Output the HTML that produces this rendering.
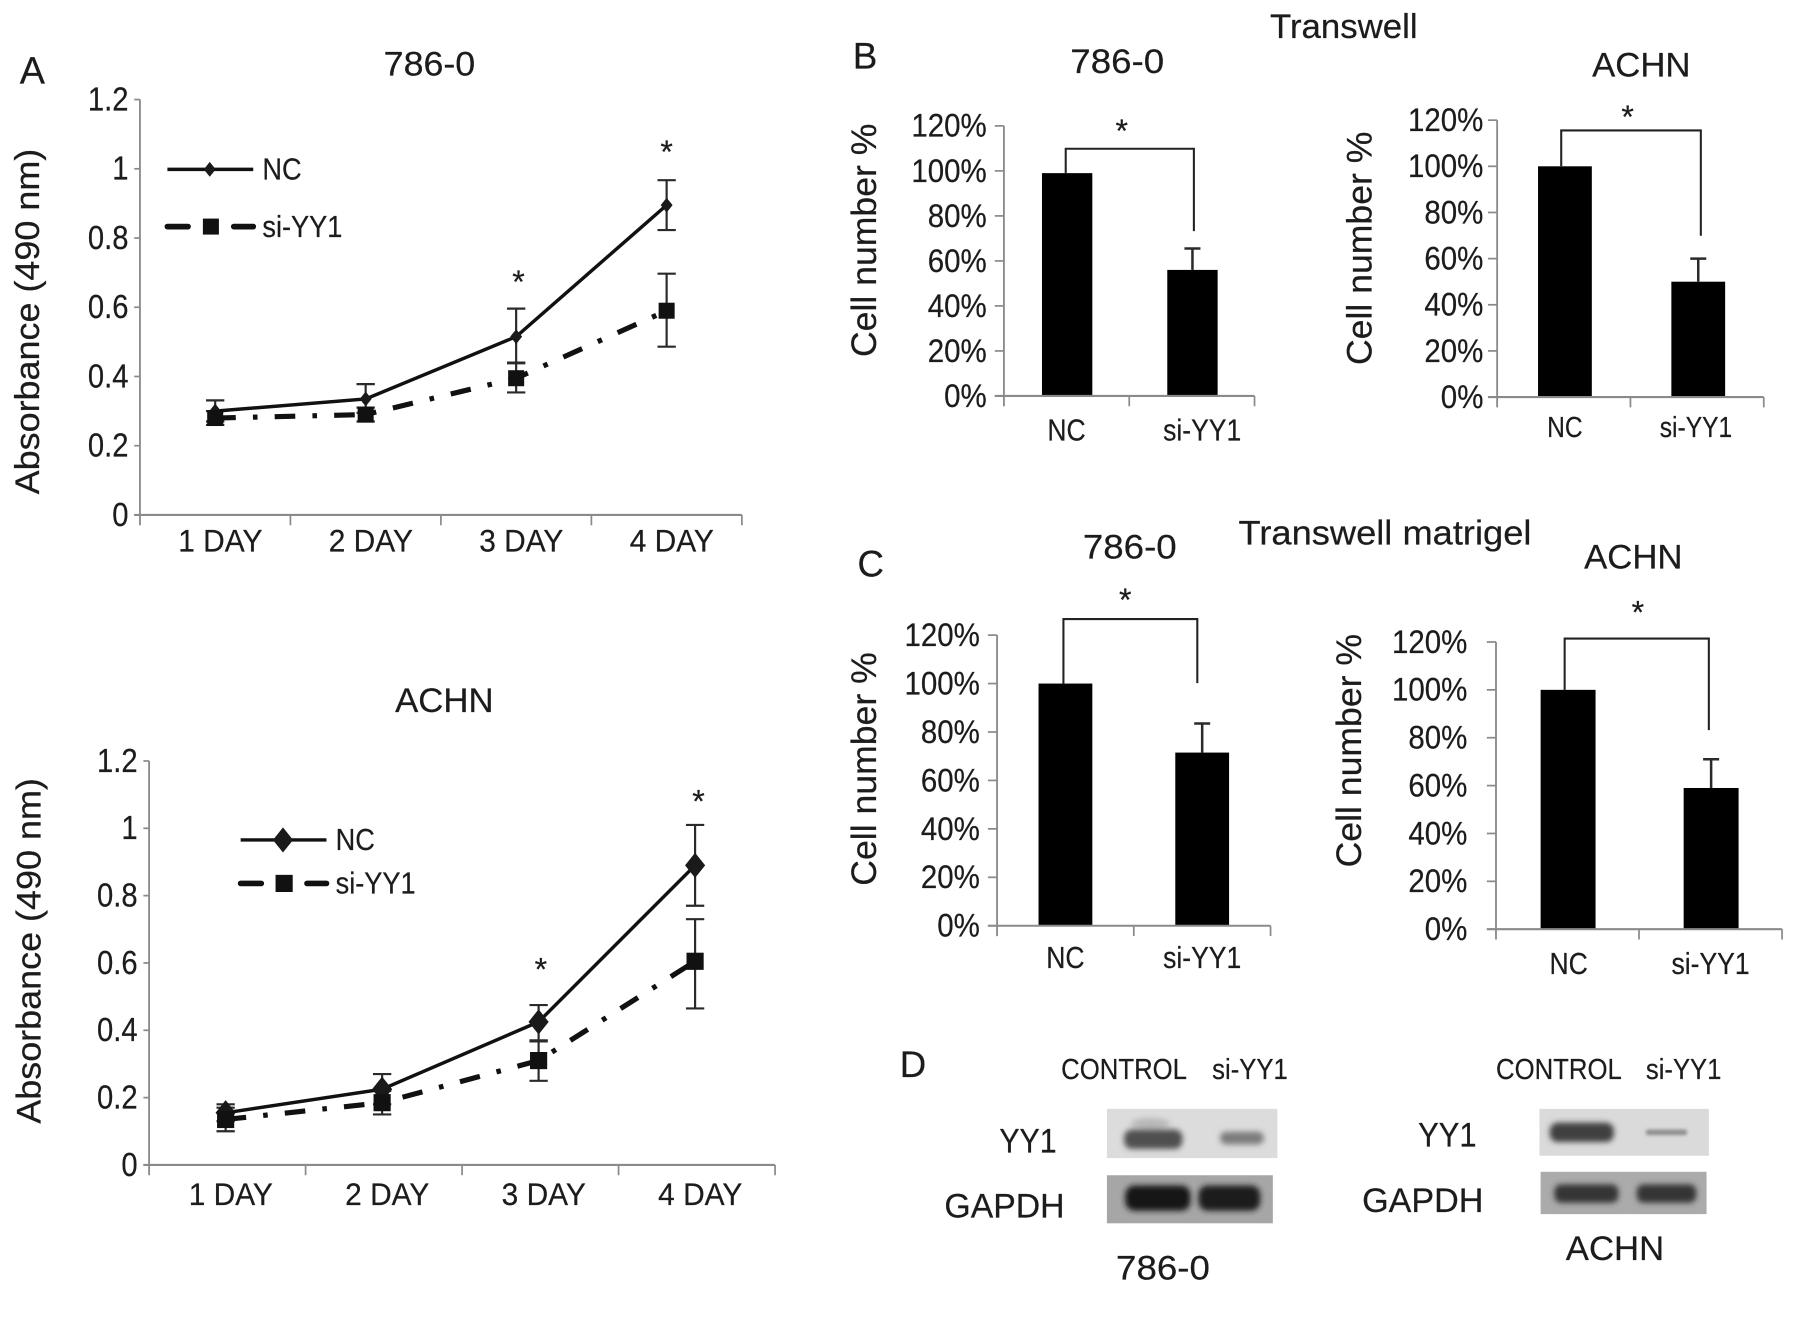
<!DOCTYPE html>
<html lang="en">
<head>
<meta charset="utf-8">
<title>YY1 knockdown figure</title>
<style>
html,body{margin:0;padding:0;background:#fff;width:1795px;height:1324px;overflow:hidden}
svg{display:block}
text{font-family:"Liberation Sans",sans-serif;fill:#1c1c1c;stroke:#1c1c1c;stroke-width:.2}
</style>
</head>
<body>
<svg id="fig" xmlns="http://www.w3.org/2000/svg" width="1795" height="1324" viewBox="0 0 1568 1157">
<defs>
<filter id="b2" x="-30%" y="-60%" width="160%" height="220%"><feGaussianBlur stdDeviation="2.5"/></filter>
<filter id="b1" x="-30%" y="-80%" width="160%" height="260%"><feGaussianBlur stdDeviation="1.5"/></filter>
</defs>
<rect width="1568" height="1157" fill="#fff"/>

<text x="17" y="73" font-size="33">A</text>
<text x="375" y="66" font-size="30" text-anchor="middle" textLength="80" lengthAdjust="spacingAndGlyphs">786-0</text>
<text x="388" y="622" font-size="30" text-anchor="middle" textLength="86" lengthAdjust="spacingAndGlyphs">ACHN</text>

<text x="745" y="60" font-size="32">B</text>
<text x="1174" y="33" font-size="30" text-anchor="middle" textLength="129" lengthAdjust="spacingAndGlyphs">Transwell</text>
<text x="976" y="64" font-size="30" text-anchor="middle" textLength="82" lengthAdjust="spacingAndGlyphs">786-0</text>
<text x="1434" y="67" font-size="30" text-anchor="middle" textLength="86" lengthAdjust="spacingAndGlyphs">ACHN</text>

<text x="749" y="504" font-size="32">C</text>
<text x="1210" y="476" font-size="30" text-anchor="middle" textLength="256" lengthAdjust="spacingAndGlyphs">Transwell matrigel</text>
<text x="987" y="488" font-size="30" text-anchor="middle" textLength="82" lengthAdjust="spacingAndGlyphs">786-0</text>
<text x="1427" y="497" font-size="30" text-anchor="middle" textLength="86" lengthAdjust="spacingAndGlyphs">ACHN</text>

<text x="786" y="941" font-size="32">D</text>
<text x="927" y="943" font-size="25" textLength="110" lengthAdjust="spacingAndGlyphs">CONTROL</text>
<text x="1059" y="943" font-size="25" textLength="66" lengthAdjust="spacingAndGlyphs">si-YY1</text>
<text x="1307" y="943" font-size="25" textLength="110" lengthAdjust="spacingAndGlyphs">CONTROL</text>
<text x="1438" y="943" font-size="25" textLength="66" lengthAdjust="spacingAndGlyphs">si-YY1</text>
<text x="873" y="1007" font-size="30" textLength="50" lengthAdjust="spacingAndGlyphs">YY1</text>
<text x="825" y="1064" font-size="30" textLength="105" lengthAdjust="spacingAndGlyphs">GAPDH</text>
<text x="1016" y="1118" font-size="30" text-anchor="middle" textLength="82" lengthAdjust="spacingAndGlyphs">786-0</text>
<text x="1239" y="1002" font-size="30" textLength="51" lengthAdjust="spacingAndGlyphs">YY1</text>
<text x="1190" y="1059" font-size="30" textLength="106" lengthAdjust="spacingAndGlyphs">GAPDH</text>
<text x="1411" y="1101" font-size="30" text-anchor="middle" textLength="86" lengthAdjust="spacingAndGlyphs">ACHN</text>

<g>
  <rect x="967" y="969" width="149" height="43" fill="#dcdcdc"/>
  <ellipse cx="1005" cy="982" rx="17" ry="5" fill="#b8b8b8" filter="url(#b2)"/>
  <rect x="982" y="987" width="51" height="17" rx="7" fill="#505050" filter="url(#b2)"/>
  <rect x="1066" y="989" width="38" height="11" rx="5" fill="#7c7c7c" filter="url(#b2)"/>
</g>
<g>
  <rect x="967" y="1027" width="145" height="42" fill="#a6a6a6"/>
  <rect x="983" y="1036" width="57" height="22" rx="8" fill="#161616" filter="url(#b2)"/>
  <rect x="1047" y="1036" width="54" height="22" rx="8" fill="#1a1a1a" filter="url(#b2)"/>
</g>
<g>
  <rect x="1345" y="969" width="148" height="41" fill="#dadada"/>
  <rect x="1354" y="981" width="56" height="17" rx="7" fill="#404040" filter="url(#b2)"/>
  <rect x="1438" y="987" width="36" height="5" rx="2" fill="#8e8e8e" filter="url(#b1)"/>
</g>
<g>
  <rect x="1346" y="1024" width="145" height="37" fill="#ababab"/>
  <rect x="1358" y="1035" width="56" height="16" rx="6" fill="#353535" filter="url(#b2)"/>
  <rect x="1430" y="1035" width="52" height="16" rx="6" fill="#353535" filter="url(#b2)"/>
</g>
</svg>

<script>
// Panel A, 786-0
const a1Categories = ["1 DAY", "2 DAY", "3 DAY", "4 DAY"];
const a1Ticks = [0, 0.2, 0.4, 0.6, 0.8, 1, 1.2];
const a1NcValues = [0.30, 0.335, 0.515, 0.895];
const a1NcUpper = [0.331, 0.378, 0.596, 0.967];
const a1NcLower = [0.27, 0.295, 0.438, 0.823];
const a1SiValues = [0.28, 0.29, 0.395, 0.59];
const a1SiUpper = [0.30, 0.31, 0.44, 0.697];
const a1SiLower = [0.26, 0.27, 0.354, 0.486];
// Panel A, ACHN
const a2Categories = ["1 DAY", "2 DAY", "3 DAY", "4 DAY"];
const a2Ticks = [0, 0.2, 0.4, 0.6, 0.8, 1, 1.2];
const a2NcValues = [0.155, 0.225, 0.425, 0.89];
const a2NcUpper = [0.18, 0.27, 0.475, 1.01];
const a2NcLower = [0.13, 0.18, 0.37, 0.77];
const a2SiValues = [0.135, 0.185, 0.31, 0.605];
const a2SiUpper = [0.17, 0.22, 0.367, 0.73];
const a2SiLower = [0.10, 0.15, 0.25, 0.465];
// Bar panels
const barCategories = ["NC", "si-YY1"];
const barTicks = ["0%", "20%", "40%", "60%", "80%", "100%", "120%"];
const b1Values = [99, 56];
const b1Errors = [0, 9.5];
const b2Values = [100, 50];
const b2Errors = [0, 10];
const c1Values = [100, 71.5];
const c1Errors = [0, 12];
const c2Values = [100, 59];
const c2Errors = [0, 12];

const svg = document.getElementById('fig');
const NS = 'http://www.w3.org/2000/svg';

function mk(parent, tag, props) {
  const el = document.createElementNS(NS, tag);
  for (const k in props) el.setAttribute(k, props[k]);
  parent.appendChild(el);
  return el;
}
function label(parent, str, x, y, size, anchor, squeeze) {
  const el = mk(parent, 'text', {x: x, y: y, 'font-size': size, 'text-anchor': anchor});
  el.textContent = str;
  if (squeeze) {
    el.setAttribute('textLength', el.getComputedTextLength() * squeeze);
    el.setAttribute('lengthAdjust', 'spacingAndGlyphs');
  }
  return el;
}
function yTitle(parent, str, x, cy, size, len) {
  const el = mk(parent, 'text', {x: 0, y: 0, 'font-size': size, 'text-anchor': 'middle',
    transform: 'translate(' + x + ',' + cy + ') rotate(-90)', textLength: len, lengthAdjust: 'spacingAndGlyphs'});
  el.textContent = str;
  
  
}
function star(parent, x, y) {
  const el = mk(parent, 'text', {x: x, y: y, 'font-size': 28, 'text-anchor': 'middle'});
  el.textContent = '*';
  
  
}
function diamond(parent, x, y, r) {
  return mk(parent, 'polygon', {points: [x, y - r, x + r * 0.8, y, x, y + r, x - r * 0.8, y].join(','), fill: '#1a1a1a'});
}
function square(parent, x, y, s) {
  return mk(parent, 'rect', {x: x - s / 2, y: y - s / 2, width: s, height: s, fill: '#111'});
}
const AX = '#8a8a8a';

function drawLineChart(c) {
  const g = mk(svg, 'g', {});
  
  
  const maxV = c.ticks[c.ticks.length - 1];
  const yOf = v => c.y0 - v / maxV * (c.y0 - c.yTop);
  const band = (c.xR - c.x0) / c.categories.length;
  const xOf = i => c.x0 + band * (i + 0.5) + c.pointDx;

  const yAxis = mk(g, 'line', {x1: c.x0, y1: c.yTop, x2: c.x0, y2: c.y0 + 9, stroke: AX, 'stroke-width': 1.6});
  
  
  const xAxis = mk(g, 'line', {x1: c.x0 - 5, y1: c.y0, x2: c.xR, y2: c.y0, stroke: AX, 'stroke-width': 1.8});
  
  

  c.ticks.forEach(t => {
    mk(g, 'line', {x1: c.x0 - 5, y1: yOf(t), x2: c.x0, y2: yOf(t), stroke: AX, 'stroke-width': 1.5});
    const tl = label(g, String(t), c.x0 - 10, yOf(t) + 9.5, 29, 'end', 0.88);
    
    
  });
  c.categories.forEach((cat, i) => {
    const tx = c.x0 + band * (i + 1);
    mk(g, 'line', {x1: tx, y1: c.y0, x2: tx, y2: c.y0 + 9, stroke: AX, 'stroke-width': 1.5});
    const tl = label(g, cat, c.x0 + band * (i + 0.5) + c.labelDx, c.y0 + c.labelDy, 27.5, 'middle', 0.95);
    
    
  });

  const errs = (vals, up, low, name) => {
    vals.forEach((v, i) => {
      const x = xOf(i);
      const e = mk(g, 'path', {
        d: 'M' + (x - 8) + ' ' + yOf(up[i]) + 'H' + (x + 8) + 'M' + x + ' ' + yOf(up[i]) + 'V' + yOf(low[i]) + 'M' + (x - 8) + ' ' + yOf(low[i]) + 'H' + (x + 8),
        fill: 'none', stroke: '#2a2a2a', 'stroke-width': 1.9});
      
      
    });
  };
  errs(c.nc, c.ncUp, c.ncLow, 'nc-error-bar');
  errs(c.si, c.siUp, c.siLow, 'si-yy1-error-bar');

  const nc = mk(g, 'polyline', {points: c.nc.map((v, i) => xOf(i) + ',' + yOf(v)).join(' '), fill: 'none', stroke: '#111', 'stroke-width': 3});
  
  
  const si = mk(g, 'polyline', {points: c.si.map((v, i) => xOf(i) + ',' + yOf(v)).join(' '), fill: 'none', stroke: '#111', 'stroke-width': 4.5, 'stroke-dasharray': '18 15 4 15'});
  
  

  c.nc.forEach((v, i) => {
    const m = diamond(g, xOf(i), yOf(v), c.dr);
    
    
  });
  c.si.forEach((v, i) => {
    const m = square(g, xOf(i), yOf(v), c.ss);
    
    
  });

  const leg = mk(g, 'g', {});
  
  
  const lx = c.legX, ly1 = c.legY1, ly2 = c.legY2;
  mk(leg, 'line', {x1: lx, y1: ly1, x2: lx + 75, y2: ly1, stroke: '#111', 'stroke-width': 3});
  diamond(leg, lx + 37, ly1, c.dr);
  const t1 = label(leg, 'NC', lx + 83, ly1 + 9, 27, 'start', 0.88);
  
  
  mk(leg, 'line', {x1: lx, y1: ly2, x2: lx + 18, y2: ly2, stroke: '#111', 'stroke-width': 5, 'stroke-linecap': 'round'});
  mk(leg, 'line', {x1: lx + 58, y1: ly2, x2: lx + 75, y2: ly2, stroke: '#111', 'stroke-width': 5, 'stroke-linecap': 'round'});
  square(leg, lx + 38, ly2, c.ss);
  const t2 = label(leg, 'si-YY1', lx + 83, ly2 + 9, 27, 'start', 0.88);
  
  

  yTitle(g, 'Absorbance (490 nm)', c.titleX, c.titleCy, 30, 302);
  star(g, xOf(2) + c.star3Dx, yOf(c.nc[2]) - c.star3Dy);
  star(g, xOf(3) + c.star4Dx, yOf(c.nc[3]) - c.star4Dy);
}

function drawBarChart(c) {
  const g = mk(svg, 'g', {});
  
  
  const maxV = 120;
  const yOf = v => c.y0 - v / maxV * (c.y0 - c.yTop);
  const band = (c.xR - c.x0) / 2;
  const xOf = i => c.x0 + band * (i + 0.5);
  const bw = c.barW;

  c.values.forEach((v, i) => {
    const r = mk(g, 'rect', {x: xOf(i) - bw / 2 + c.barDx, y: yOf(v), width: bw, height: c.y0 - yOf(v), fill: '#000'});
    
    
    if (c.errors[i] > 0) {
      const bx = xOf(i) + c.barDx;
      const e = mk(g, 'path', {d: 'M' + bx + ' ' + yOf(v) + 'V' + yOf(v + c.errors[i]) + 'M' + (bx - 7) + ' ' + yOf(v + c.errors[i]) + 'H' + (bx + 7), fill: 'none', stroke: '#2a2a2a', 'stroke-width': 2.2});
      
      
    }
    const tl = label(g, barCategories[i], xOf(i) + c.labelDx[i], c.y0 + c.labelDy, c.labelSize, 'middle', c.labelSqueeze);
    
    
  });

  const yAxis = mk(g, 'line', {x1: c.x0, y1: c.yTop, x2: c.x0, y2: c.y0 + 9, stroke: AX, 'stroke-width': 1.6});
  
  
  const xAxis = mk(g, 'line', {x1: c.x0 - 8, y1: c.y0, x2: c.xR, y2: c.y0, stroke: AX, 'stroke-width': 1.8});
  
  
  [1, 2].forEach(k => {
    const tx = c.x0 + band * k;
    mk(g, 'line', {x1: tx, y1: c.y0, x2: tx, y2: c.y0 + 9, stroke: AX, 'stroke-width': 1.5});
  });
  barTicks.forEach(t => {
    const v = parseFloat(t);
    mk(g, 'line', {x1: c.x0 - 8, y1: yOf(v), x2: c.x0, y2: yOf(v), stroke: AX, 'stroke-width': 1.5});
    const tl = label(g, t, c.tickR, yOf(v) + 9.5, 28, 'end', 0.92);
    
    
  });

  const yEnd = c.bracketEnd;
  const br = mk(g, 'path', {d: 'M' + c.brL + ' ' + yOf(c.values[0]) + 'V' + c.brTop + 'H' + c.brR + 'V' + yEnd, fill: 'none', stroke: '#222', 'stroke-width': 1.8});
  
  
  star(g, c.starX, c.starY);
  yTitle(g, 'Cell number %', c.titleX, c.titleCy, 31, 204);
}

drawLineChart({name: 'chart-a-786-0', categories: a1Categories, ticks: a1Ticks, nc: a1NcValues, ncUp: a1NcUpper, ncLow: a1NcLower,
  si: a1SiValues, siUp: a1SiUpper, siLow: a1SiLower, x0: 122, xR: 648, yTop: 87, y0: 450, labelDy: 32, labelDx: 4.5, pointDx: 0,
  dr: 6.5, ss: 14, legX: 146, legY1: 148, legY2: 198, titleX: 34, titleCy: 281, star3Dx: 2, star3Dy: 38, star4Dx: 0, star4Dy: 37});
drawLineChart({name: 'chart-a-achn', categories: a2Categories, ticks: a2Ticks, nc: a2NcValues, ncUp: a2NcUpper, ncLow: a2NcLower,
  si: a2SiValues, siUp: a2SiUpper, siLow: a2SiLower, x0: 130, xR: 677, yTop: 665, y0: 1018, labelDy: 35, labelDx: 3, pointDx: -1.5,
  dr: 11, ss: 15, legX: 210, legY1: 734, legY2: 772, titleX: 35, titleCy: 831, star3Dx: 2, star3Dy: 36, star4Dx: 3, star4Dy: 46});
drawBarChart({name: 'chart-b-786-0', values: b1Values, errors: b1Errors, x0: 877, xR: 1096, yTop: 110, y0: 346, barW: 44, barDx: 0.5,
  labelDx: [0, 9], labelDy: 39, labelSize: 27, labelSqueeze: 0.86, tickR: 862, brL: 931, brR: 1043, brTop: 130, bracketEnd: 202, starX: 980, starY: 124, titleX: 765, titleCy: 210});
drawBarChart({name: 'chart-b-achn', values: b2Values, errors: b2Errors, x0: 1308, xR: 1541, yTop: 105, y0: 347, barW: 47, barDx: 1,
  labelDx: [1, -1], labelDy: 35, labelSize: 25, labelSqueeze: 0.86, tickR: 1296, brL: 1364, brR: 1486, brTop: 114, bracketEnd: 206, starX: 1422, starY: 112, titleX: 1198, titleCy: 217});
drawBarChart({name: 'chart-c-786-0', values: c1Values, errors: c1Errors, x0: 871, xR: 1110, yTop: 555, y0: 809, barW: 47, barDx: 0,
  labelDx: [0, 0], labelDy: 37, labelSize: 27, labelSqueeze: 0.86, tickR: 856, brL: 929, brR: 1046, brTop: 541, bracketEnd: 597, starX: 983, starY: 534, titleX: 765, titleCy: 672});
drawBarChart({name: 'chart-c-achn', values: c2Values, errors: c2Errors, x0: 1307, xR: 1557, yTop: 561, y0: 812, barW: 48, barDx: 0.5,
  labelDx: [1, 0], labelDy: 39, labelSize: 27, labelSqueeze: 0.86, tickR: 1282, brL: 1367, brR: 1493, brTop: 558, bracketEnd: 638, starX: 1431, starY: 545, titleX: 1189, titleCy: 656});
</script>
</body>
</html>
